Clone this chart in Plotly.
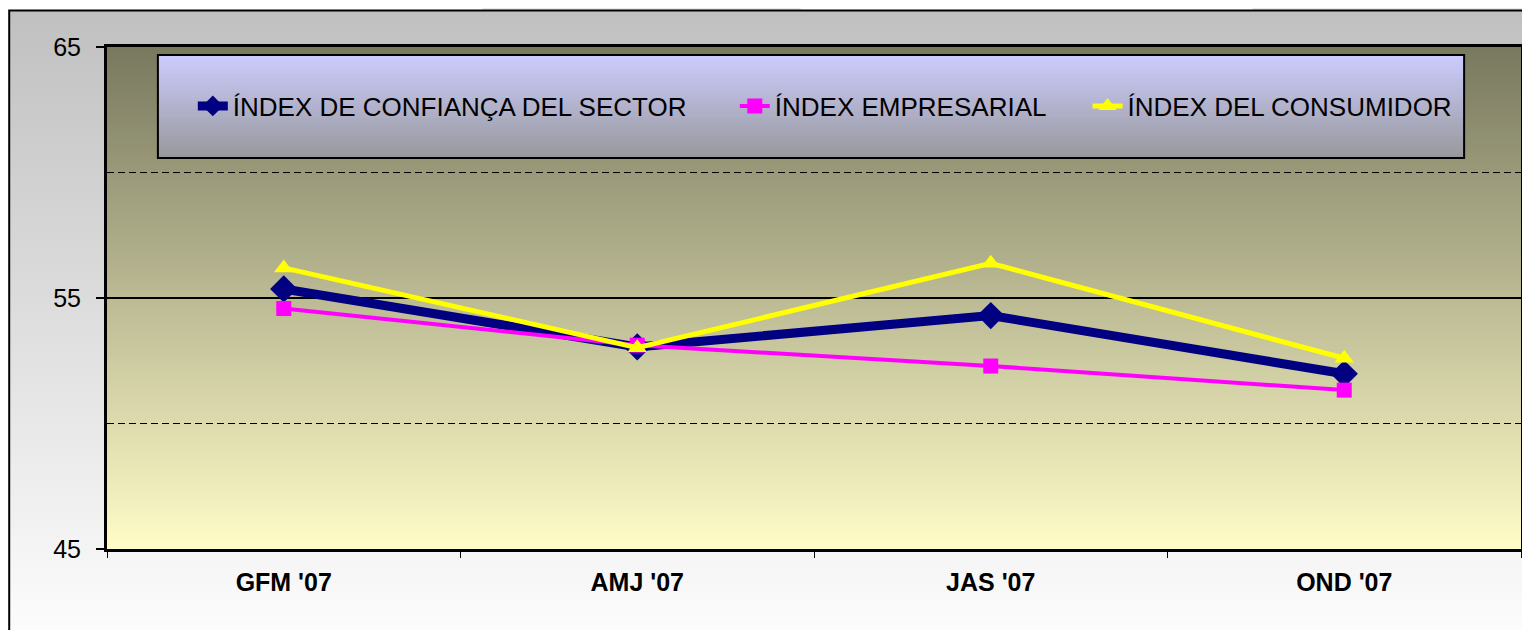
import plotly.graph_objects as go

# ---------------- data ----------------
categories = ["GFM '07", "AMJ '07", "JAS '07", "OND '07"]
sector = [55.36, 53.05, 54.30, 51.98]
empresarial = [54.58, 53.12, 52.29, 51.33]
consumidor = [56.20, 53.02, 56.38, 52.60]
series_names = ["ÍNDEX DE CONFIANÇA DEL SECTOR", "ÍNDEX EMPRESARIAL", "ÍNDEX DEL CONSUMIDOR"]
y_ticks = [45, 55, 65]

# ---------------- geometry helpers (page pixel -> paper) ----------------
OFF = 8  # default body margin of the html page
W, H = 1530 - OFF, 630 - OFF
L, R, T, B = 107, 1524, 47, 549   # plot area in page pixels
PW, PH = R - L, B - T


def pxx(x):
    return (x - L) / PW


def pxy(y):
    return (B - y) / PH


def lerp(c1, c2, t):
    return "rgb(%d,%d,%d)" % tuple(round(a + (b - a) * t) for a, b in zip(c1, c2))


shapes = []

# page patches outside the chart frame
for x0, y0, x1, y1 in [(483, 0, 802, 10), (1255, 0, 1545, 10)]:
    shapes.append(dict(type="rect", xref="paper", yref="paper", layer="below",
                       x0=pxx(x0), x1=pxx(x1), y0=pxy(y1), y1=pxy(y0),
                       fillcolor="#e8e8e8", line=dict(width=0)))


def gradient(x0, x1, y0, y1, c_top, c_bot, step):
    y = y0
    while y < y1:
        ye = min(y + step, y1)
        t = ((y + ye) / 2 - y0) / (y1 - y0)
        shapes.append(dict(type="rect", xref="paper", yref="paper", layer="below",
                           x0=pxx(x0), x1=pxx(x1), y0=pxy(min(ye + 0.6, y1)), y1=pxy(y),
                           fillcolor=lerp(c_top, c_bot, t), line=dict(width=0)))
        y = ye


# chart frame background gradient
gradient(9, 1545, 10, 640, (192, 192, 192), (253, 253, 253), 8)
shapes.append(dict(type="rect", xref="paper", yref="paper", layer="below",
                   x0=pxx(9), x1=pxx(1550), y0=pxy(650), y1=pxy(10.5),
                   fillcolor="rgba(0,0,0,0)", line=dict(color="black", width=2)))

# plot area gradient
gradient(L, R, T, B, (120, 120, 95), (255, 252, 200), 4)

# legend box gradient + border
LX0, LX1, LY0, LY1 = 158, 1467, 55, 158
gradient(LX0, LX1, LY0, LY1, (204, 204, 255), (152, 152, 155), 3)
shapes.append(dict(type="rect", xref="paper", yref="paper", layer="below",
                   x0=pxx(LX0), x1=pxx(LX1), y0=pxy(LY1), y1=pxy(LY0),
                   fillcolor="rgba(0,0,0,0)", line=dict(color="black", width=2)))

# ---------------- traces ----------------
NB = "\u00a0"
legend_labels = [series_names[0] + NB * 6, series_names[1] + NB * 5, series_names[2]]

fig = go.Figure()
fig.add_trace(go.Scatter(x=categories, y=sector, name=legend_labels[0], mode="lines+markers",
                         line=dict(color="#000080", width=9),
                         marker=dict(symbol="diamond", size=21, color="#000080")))
fig.add_trace(go.Scatter(x=categories, y=empresarial, name=legend_labels[1], mode="lines+markers",
                         line=dict(color="#ff00ff", width=4),
                         marker=dict(symbol="square", size=15, color="#ff00ff")))
fig.add_trace(go.Scatter(x=categories, y=consumidor, name=legend_labels[2], mode="lines+markers",
                         line=dict(color="#ffff00", width=5),
                         marker=dict(symbol="triangle-up", size=17, color="#ffff00")))

FONT = "Liberation Sans, Arial, sans-serif"

fig.update_layout(
    width=W, height=H,
    margin=dict(l=L - OFF, r=W + OFF - R, t=T - OFF, b=H + OFF - B, pad=0),
    paper_bgcolor="white",
    plot_bgcolor="rgba(0,0,0,0)",
    font=dict(family=FONT, color="black"),
    shapes=shapes,
    showlegend=True,
    legend=dict(orientation="h", x=pxx(193), xanchor="left", y=pxy(106), yanchor="middle",
                bgcolor="rgba(0,0,0,0)", borderwidth=0,
                font=dict(family=FONT, size=26, color="black")),
    xaxis=dict(type="category", categoryorder="array", categoryarray=categories,
               range=[-0.5, 3.5], showgrid=False, zeroline=False,
               showline=True, linecolor="black", linewidth=3, mirror=True,
               ticks="outside", tickson="boundaries", ticklen=6, tickwidth=1, tickcolor="black",
               ticklabelstandoff=9,
               tickfont=dict(family=FONT, size=25, color="black", weight="bold")),
    yaxis=dict(range=[45, 65], tickvals=y_ticks, showgrid=True, gridcolor="black", gridwidth=2,
               zeroline=False, showline=True, linecolor="black", linewidth=3, mirror=True,
               ticks="outside", ticklen=8, tickwidth=1.5, tickcolor="black",
               ticklabelstandoff=10,
               tickfont=dict(family=FONT, size=25, color="black"),
               minor=dict(dtick=5, tick0=45, showgrid=True, gridcolor="black", gridwidth=1.3,
                          griddash="7px,4px", ticks="")),
)

fig.write_html("out.html")
